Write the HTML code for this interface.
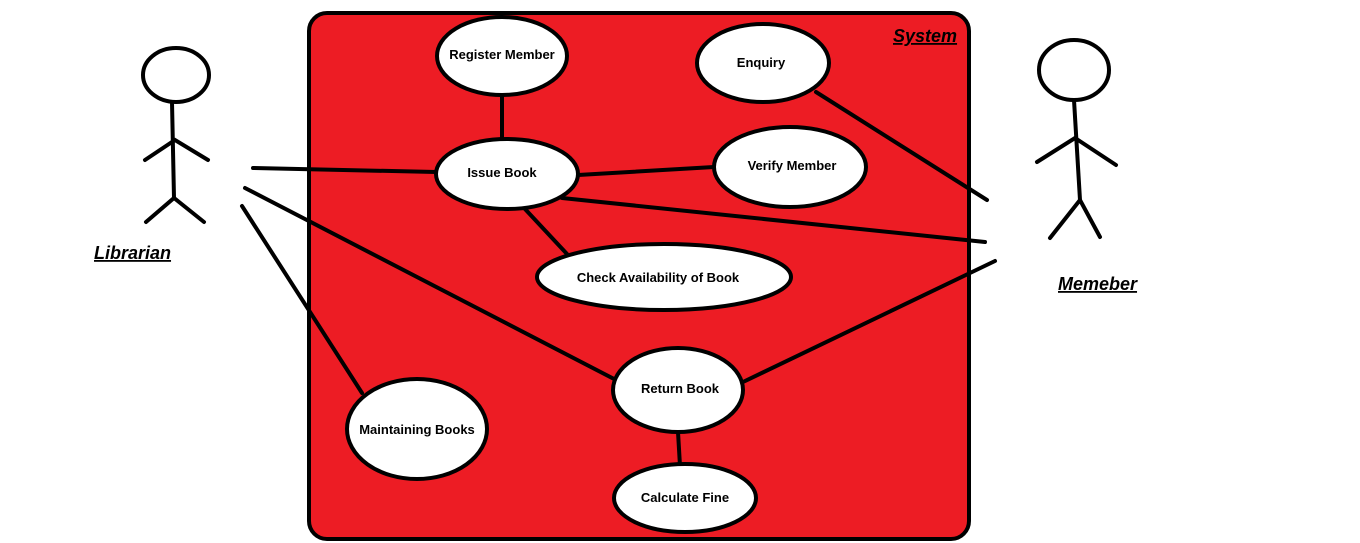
<!DOCTYPE html>
<html><head><meta charset="utf-8"><style>
html,body{margin:0;padding:0;background:#fff;}
svg{display:block;}
text{font-family:"Liberation Sans",sans-serif;font-weight:bold;}
</style></head><body>
<svg width="1360" height="543" viewBox="0 0 1360 543" xmlns="http://www.w3.org/2000/svg">
<rect x="309" y="13" width="660" height="526" rx="18" ry="18" fill="#ED1C24" stroke="#000" stroke-width="4"/>
<g stroke="#000" stroke-width="4" fill="none" stroke-linecap="round">
<line x1="502" y1="95" x2="502" y2="140"/>
<line x1="253" y1="168" x2="436" y2="172"/>
<line x1="578" y1="175" x2="714" y2="167"/>
<line x1="525" y1="209" x2="567" y2="254"/>
<line x1="562" y1="198" x2="985" y2="242"/>
<line x1="816" y1="92" x2="987" y2="200"/>
<line x1="245" y1="188" x2="616" y2="380"/>
<line x1="242" y1="206" x2="362" y2="393"/>
<line x1="743" y1="382" x2="995" y2="261"/>
<line x1="678" y1="432" x2="680" y2="466"/>
<ellipse cx="176" cy="75" rx="33" ry="27"/>
<line x1="172" y1="102" x2="174" y2="198"/>
<polyline points="145,160 175,140 208,160"/>
<polyline points="146,222 174,198 204,222"/>
<ellipse cx="1074" cy="70" rx="35" ry="30"/>
<line x1="1074" y1="100" x2="1080" y2="200"/>
<polyline points="1037,162 1075,138 1116,165"/>
<polyline points="1050,238 1080,200 1100,237"/>
</g>
<g fill="#fff" stroke="#000" stroke-width="4">
<ellipse cx="502" cy="56" rx="65" ry="39"/>
<ellipse cx="763" cy="63" rx="66" ry="39"/>
<ellipse cx="507" cy="174" rx="71" ry="35"/>
<ellipse cx="790" cy="167" rx="76" ry="40"/>
<ellipse cx="664" cy="277" rx="127" ry="33"/>
<ellipse cx="678" cy="390" rx="65" ry="42"/>
<ellipse cx="417" cy="429" rx="70" ry="50"/>
<ellipse cx="685" cy="498" rx="71" ry="34"/>
</g>
<g font-size="13" text-anchor="middle" fill="#000">
<text x="502" y="59">Register Member</text>
<text x="761" y="67">Enquiry</text>
<text x="502" y="177">Issue Book</text>
<text x="792" y="170">Verify Member</text>
<text x="658" y="282">Check Availability of Book</text>
<text x="680" y="393">Return Book</text>
<text x="417" y="434">Maintaining Books</text>
<text x="685" y="502">Calculate Fine</text>
</g>
<g font-size="18" font-style="italic" fill="#000">
<text x="893" y="42" text-decoration="underline">System</text>
<text x="94" y="259" text-decoration="underline">Librarian</text>
<text x="1058" y="290" text-decoration="underline">Memeber</text>
</g>
</svg>
</body></html>
